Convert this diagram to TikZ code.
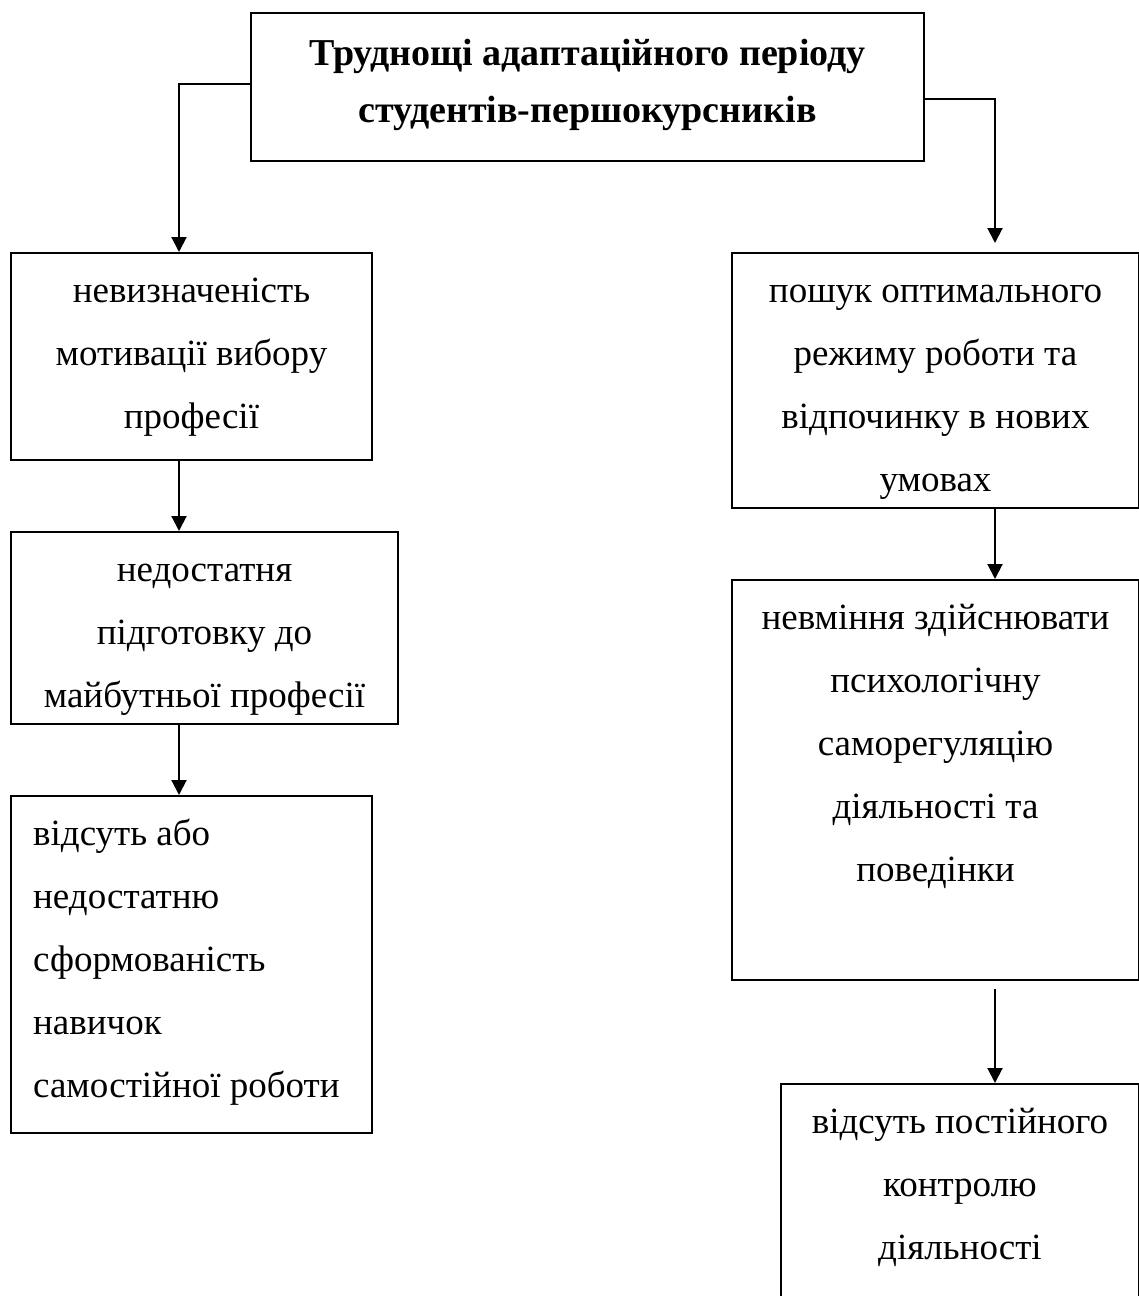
\documentclass[tikz,border=0pt]{standalone}
\usepackage{fontspec}
\setmainfont{Liberation Serif}
\usetikzlibrary{arrows.meta,calc}
\tikzset{
  box/.style={draw, line width=2pt, inner sep=0pt, anchor=north west},
  txt/.style={inner sep=0pt, anchor=north, align=center, font=\fontsize{37}{63}\selectfont},
  ttl/.style={inner sep=0pt, anchor=north, align=center, font=\fontsize{38}{57}\selectfont\bfseries},
  arr/.style={line width=2pt, -{Triangle[length=15pt,width=15pt]}},
}
\begin{document}
\begin{tikzpicture}[x=1pt,y=-1pt]
\useasboundingbox[fill=white] (0,0) rectangle (1139,1296);
\coordinate (lx) at (179,0);
\coordinate (rx) at (995,0);
% boxes
\node[box, minimum width=673pt, minimum height=148pt] (top) at (250,12) {};
\node[box, minimum width=361pt, minimum height=207pt] (l1) at (10,252) {};
\node[box, minimum width=387pt, minimum height=192pt] (l2) at (10,531) {};
\node[box, minimum width=361pt, minimum height=337pt] (l3) at (10,795) {};
\node[box, minimum width=407pt, minimum height=255pt] (r1) at (731,252) {};
\node[box, minimum width=407pt, minimum height=400pt] (r2) at (731,579) {};
\node[box, minimum width=358pt, minimum height=230pt] (r3) at (780,1083) {};
% texts
\node[ttl] (topt) at ([yshift=-13pt]top.north) {\strut Труднощі адаптаційного періоду\\студентів-першокурсників};
\node[txt] (l1t) at ([yshift=-6pt]l1.north) {\strut невизначеність\\мотивації вибору\\професії};
\node[txt] (l2t) at ([yshift=-6pt]l2.north) {\strut недостатня\\підготовку до\\майбутньої професії};
\node[txt, anchor=north west, align=left] (l3t) at ([xshift=23pt,yshift=-6pt]l3.north west) {\strut відсуть або\\недостатню\\сформованість\\навичок\\самостійної роботи};
\node[txt] (r1t) at ([yshift=-6pt]r1.north) {\strut пошук оптимального\\режиму роботи та\\відпочинку в нових\\умовах};
\node[txt] (r2t) at ([yshift=-6pt]r2.north) {\strut невміння здійснювати\\психологічну\\саморегуляцію\\діяльності та\\поведінки};
\node[txt] (r3t) at ([yshift=-6pt]r3.north) {\strut відсуть постійного\\контролю\\діяльності};
% connectors
\draw[arr] ([yshift=-72pt]top.north west) -| (l1.north -| lx);
\draw[arr] ([yshift=-87pt]top.north east) -| ([yshift=9pt]r1.north -| rx);
\draw[arr] (l1.south -| lx) -- (l2.north -| lx);
\draw[arr] (l2.south -| lx) -- (l3.north -| lx);
\draw[arr] (r1.south -| rx) -- (r2.north -| rx);
\draw[arr] ([yshift=-8pt]r2.south -| rx) -- (r3.north -| rx);
\end{tikzpicture}
\end{document}
